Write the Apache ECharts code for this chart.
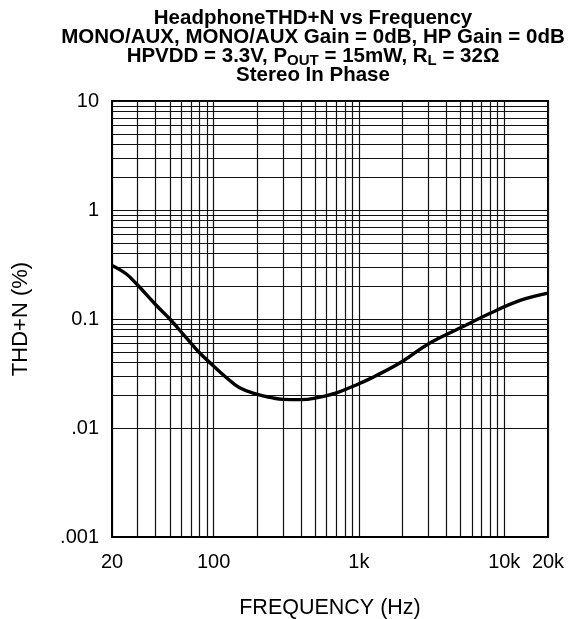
<!DOCTYPE html>
<html>
<head>
<meta charset="utf-8">
<script src="https://cdn.jsdelivr.net/npm/echarts@6/dist/echarts.min.js"></script>
<style>
  html, body { margin: 0; padding: 0; background: #fff; }
  #chart { width: 579px; height: 619px; }
</style>
</head>
<body>
<div id="chart"></div>
<script>
// Measured headphone THD+N (%) against frequency (Hz)
const freqHz = [20, 25, 30, 40, 50, 65, 80, 100, 120, 150, 200, 250, 300, 400, 500, 700, 1000, 1300, 2000, 3000, 5000, 8000, 13000, 20000];
const thdPct = [0.31, 0.26, 0.205, 0.135, 0.100, 0.067, 0.049, 0.037, 0.0297, 0.0235, 0.0203, 0.019, 0.0183, 0.0182, 0.0188, 0.021, 0.0255, 0.030, 0.041, 0.059, 0.083, 0.113, 0.149, 0.173];

// Axis tick labels
const xTickValues = [20, 100, 1000, 10000, 20000];
const xTickLabels = ['20', '100', '1k', '10k', '20k'];
const yTickValues = [0.001, 0.01, 0.1, 1, 10];
const yTickLabels = ['.001', '.01', '0.1', '1', '10'];

// Intermediate log-decade grid lines
const xMinorGrid = [30, 40, 50, 60, 70, 80, 90,
                    200, 300, 400, 500, 600, 700, 800, 900,
                    2000, 3000, 4000, 5000, 6000, 7000, 8000, 9000];
const yMinorGrid = [0.002, 0.003, 0.004, 0.005, 0.006, 0.007, 0.008, 0.009,
                    0.02, 0.03, 0.04, 0.05, 0.06, 0.07, 0.08, 0.09,
                    0.2, 0.3, 0.4, 0.5, 0.6, 0.7, 0.8, 0.9,
                    2, 3, 4, 5, 6, 7, 8, 9];

function nearestLabel(v, values, labels) {
  let best = 0, bestD = Infinity;
  values.forEach((t, i) => {
    const d = Math.abs(Math.log10(v) - Math.log10(t));
    if (d < bestD) { bestD = d; best = i; }
  });
  return bestD < 0.02 ? labels[best] : '';
}

const FONT = 'Liberation Sans, Arial, sans-serif';
const GRID_COLOR = '#111';

const chart = echarts.init(document.getElementById('chart'), null, { renderer: 'canvas' });

const minorLines = []
  .concat(xMinorGrid.map(v => ({ xAxis: v })))
  .concat(yMinorGrid.map(v => ({ yAxis: v })));

chart.setOption({
  animation: false,
  backgroundColor: '#ffffff',
  title: {
    left: 313,
    textAlign: 'center',
    top: 9,
    padding: 0,
    text: '{b|HeadphoneTHD+N vs Frequency}\n' +
          '{b|MONO/AUX, MONO/AUX Gain = 0dB, HP Gain = 0dB}\n' +
          '{b|HPVDD = 3.3V, P}{s|OUT}{b| = 15mW, R}{s|L}{b| = 32Ω}\n' +
          '{b|Stereo In Phase}',
    textStyle: {
      fontFamily: FONT,
      rich: {
        b: { fontSize: 20.5, fontWeight: 'bold', color: '#000', fontFamily: FONT, lineHeight: 19 },
        s: { fontSize: 15, fontWeight: 'bold', color: '#000', fontFamily: FONT, lineHeight: 19, padding: [8, 0, 0, 0] }
      }
    }
  },
  grid: {
    left: 112, right: 31, top: 101, bottom: 82,
    outerBoundsMode: 'none',
    containLabel: false,
    show: true, borderColor: '#000', borderWidth: 2, backgroundColor: 'transparent'
  },
  xAxis: {
    type: 'log',
    logBase: 10,
    min: 20,
    max: 20000,
    name: 'FREQUENCY (Hz)',
    nameLocation: 'middle',
    nameGap: 60,
    nameTextStyle: { fontFamily: FONT, fontSize: 21.5, color: '#000' },
    axisLine: { show: true, lineStyle: { color: '#000', width: 2 } },
    axisTick: { show: false },
    axisLabel: {
      fontFamily: FONT, fontSize: 20, color: '#000', margin: 15,
      showMinLabel: true, showMaxLabel: true,
      formatter: v => nearestLabel(v, xTickValues, xTickLabels)
    },
    splitLine: { show: true, lineStyle: { color: GRID_COLOR, width: 1.2 } }
  },
  yAxis: {
    type: 'log',
    logBase: 10,
    min: 0.001,
    max: 10,
    name: 'THD+N (%)',
    nameLocation: 'middle',
    nameGap: 80,
    nameRotate: 90,
    nameTextStyle: { fontFamily: FONT, fontSize: 22, color: '#000' },
    axisLine: { show: true, lineStyle: { color: '#000', width: 2 } },
    axisTick: { show: false },
    axisLabel: {
      fontFamily: FONT, fontSize: 20, color: '#000', margin: 13,
      formatter: v => nearestLabel(v, yTickValues, yTickLabels)
    },
    splitLine: { show: true, lineStyle: { color: GRID_COLOR, width: 1.2 } }
  },
  series: [{
    type: 'line',
    data: freqHz.map((f, i) => [f, thdPct[i]]),
    smooth: 0.4,
    symbol: 'none',
    lineStyle: { color: '#000', width: 3.4 },
    z: 5,
    markLine: {
      silent: true,
      symbol: ['none', 'none'],
      label: { show: false },
      lineStyle: { color: GRID_COLOR, width: 1.2, type: 'solid' },
      data: minorLines,
      z: 1
    }
  }]
});
</script>
</body>
</html>
